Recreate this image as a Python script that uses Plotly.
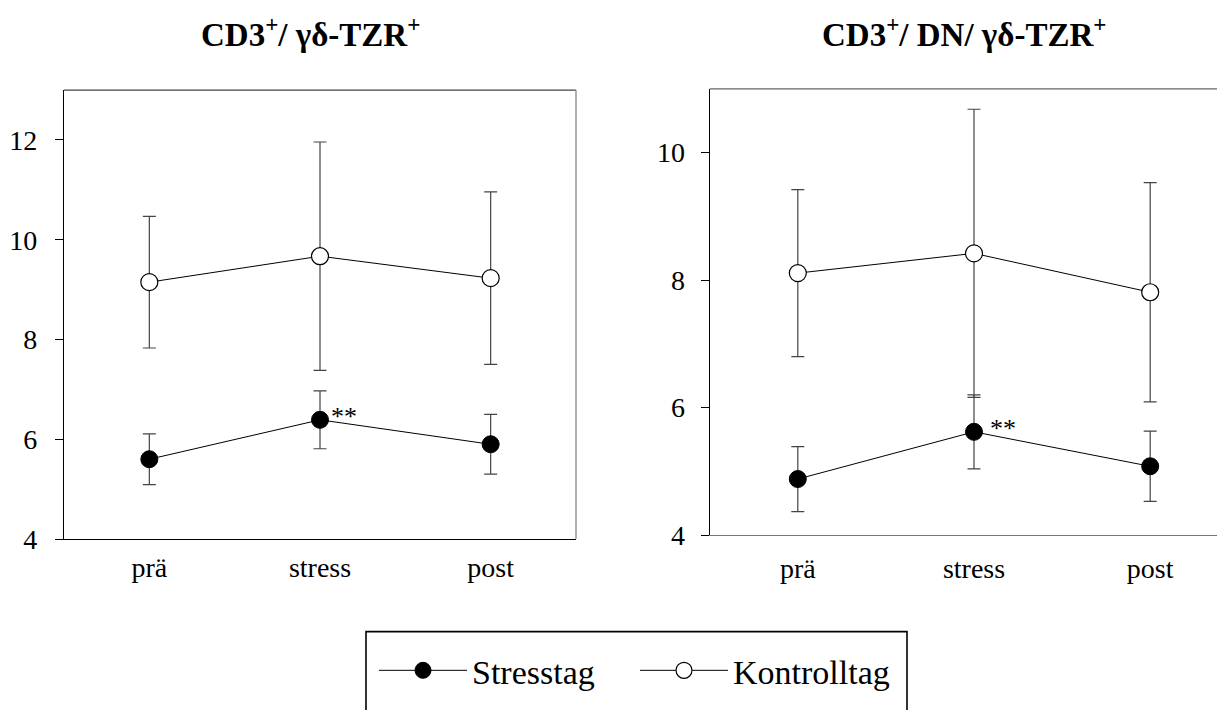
import plotly.graph_objects as go

# ---------------- data ----------------
categories = ["prä", "stress", "post"]
y_ticks_left = [4, 6, 8, 10, 12]
y_ticks_right = [4, 6, 8, 10]

left_stress_mean = [5.60, 6.39, 5.90]
left_stress_err = [0.51, 0.58, 0.60]
left_kontroll_mean = [9.15, 9.67, 9.23]
left_kontroll_err = [1.32, 2.29, 1.73]

right_stress_mean = [4.88, 5.62, 5.08]
right_stress_err = [0.51, 0.58, 0.55]
right_kontroll_mean = [8.11, 8.42, 7.81]
right_kontroll_err = [1.31, 2.26, 1.72]

titles = ["CD3<sup>+</sup>/ γδ-TZR<sup>+</sup>",
          "CD3<sup>+</sup>/ DN/ γδ-TZR<sup>+</sup>"]
series_names = ["Stresstag", "Kontrolltag"]
signif_label = "**"

# ---------------- style ----------------
FONT = "Liberation Serif"
W, H = 1225, 710
ERR_COLOR = "#444444"

fig = go.Figure()

panels = [
    ("x", "y", left_stress_mean, left_stress_err, left_kontroll_mean, left_kontroll_err, True),
    ("x2", "y2", right_stress_mean, right_stress_err, right_kontroll_mean, right_kontroll_err, False),
]

for xa, ya, s_mean, s_err, k_mean, k_err, show in panels:
    fig.add_trace(go.Scatter(
        x=categories, y=s_mean, xaxis=xa, yaxis=ya,
        mode="lines+markers", name=series_names[0], legendgroup="s", showlegend=show,
        line=dict(color="black", width=1),
        marker=dict(size=17, color="black", line=dict(color="black", width=1)),
        error_y=dict(type="data", array=s_err, color=ERR_COLOR, thickness=1.2, width=6.5),
    ))
    fig.add_trace(go.Scatter(
        x=categories, y=k_mean, xaxis=xa, yaxis=ya,
        mode="lines+markers", name=series_names[1], legendgroup="k", showlegend=show,
        line=dict(color="black", width=1),
        marker=dict(size=17, color="white", line=dict(color="black", width=1.2)),
        error_y=dict(type="data", array=k_err, color=ERR_COLOR, thickness=1.2, width=6.5),
    ))

axis_common = dict(showgrid=False, zeroline=False, showline=True, linewidth=1.3)
xfont = dict(family=FONT, size=28, color="black")
yfont = dict(family=FONT, size=28, color="black")

fig.update_layout(
    width=W, height=H,
    margin=dict(l=0, r=0, t=0, b=0),
    paper_bgcolor="white", plot_bgcolor="white",
    font=dict(family=FONT, color="black"),
    xaxis=dict(domain=[56 / W, 568 / W], range=[-0.5, 2.5], anchor="y",
               linecolor="black", ticks="", ticklabelstandoff=3, tickfont=xfont, **axis_common),
    yaxis=dict(domain=[1 - 543.3 / H, 1 - 84 / H], range=[4, 13], anchor="x",
               tickvals=y_ticks_left, ticks="outside", ticklen=8, tickcolor="black",
               linecolor="black", ticklabelstandoff=12, tickfont=yfont, **axis_common),
    xaxis2=dict(domain=[701.7 / W, 1.0], range=[-0.5, 2.47], anchor="y2",
                linecolor="#777777", ticks="", ticklabelstandoff=8, tickfont=xfont, **axis_common),
    yaxis2=dict(domain=[1 - 539.3 / H, 1 - 82.7 / H], range=[4, 11], anchor="x2",
                tickvals=y_ticks_right, ticks="outside", ticklen=8, tickcolor="black",
                linecolor="black", ticklabelstandoff=10, tickfont=yfont, **axis_common),
    legend=dict(orientation="h", x=366 / W, y=1 - 678 / H, xanchor="left", yanchor="middle",
                borderwidth=0, bgcolor="rgba(0,0,0,0)",
                font=dict(family=FONT, size=34, color="black"),
                itemwidth=88, entrywidth=158, entrywidthmode="pixels"),
    showlegend=True,
)

# box borders (top / right)
fig.add_shape(type="line", xref="x domain", yref="y domain", x0=0, x1=1, y0=1, y1=1,
              line=dict(color="#444444", width=1.3))
fig.add_shape(type="line", xref="x domain", yref="y domain", x0=1, x1=1, y0=0, y1=1,
              line=dict(color="#888888", width=1.3))
fig.add_shape(type="line", xref="x2 domain", yref="y2 domain", x0=0, x1=1, y0=1, y1=1,
              line=dict(color="#666666", width=1.3))
# legend frame (runs off the bottom edge as in the reference)
fig.add_shape(type="rect", xref="paper", yref="paper",
              x0=358 / W, x1=899 / W, y0=1 - 638 / H, y1=-0.02,
              line=dict(color="black", width=1.6), fillcolor="rgba(0,0,0,0)")

# titles
for t, cx in zip(titles, [302, 956]):
    fig.add_annotation(text="<b>" + t + "</b>", x=cx / W, y=1 - 25 / H, xref="paper", yref="paper",
                       xanchor="center", yanchor="middle", showarrow=False,
                       font=dict(family=FONT, size=33, color="black"))

# significance markers
fig.add_annotation(text=signif_label, x=categories[1], y=left_stress_mean[1], xref="x", yref="y",
                   showarrow=False, xshift=24, yshift=3, font=dict(family=FONT, size=26, color="black"))
fig.add_annotation(text=signif_label, x=categories[1], y=right_stress_mean[1], xref="x2", yref="y2",
                   showarrow=False, xshift=29, yshift=3, font=dict(family=FONT, size=26, color="black"))

fig.write_html("out.html")
